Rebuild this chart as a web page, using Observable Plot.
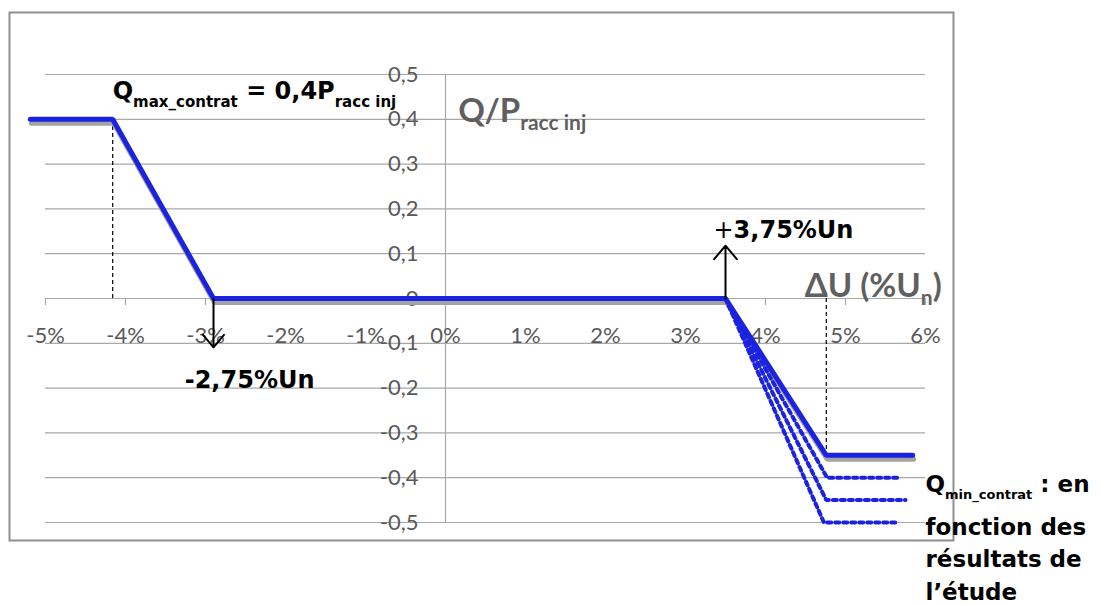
<!DOCTYPE html>
<html>
<head>
<meta charset="utf-8">
<script src="https://cdn.jsdelivr.net/npm/d3@7"></script>
<script src="https://cdn.jsdelivr.net/npm/@observablehq/plot@0.6"></script>
<style>
  html, body { margin: 0; padding: 0; background: #fff; }
  #chart svg { display: block; }
</style>
</head>
<body>
<div id="chart"></div>
<script>
// ---- Data ----
const xTicks = [-5, -4, -3, -2, -1, 0, 1, 2, 3, 4, 5, 6];
const xTickLabels = ["-5%", "-4%", "-3%", "-2%", "-1%", "0%", "1%", "2%", "3%", "4%", "5%", "6%"];
const yTicks = [0.5, 0.4, 0.3, 0.2, 0.1, 0, -0.1, -0.2, -0.3, -0.4, -0.5];
const yTickLabels = ["0,5", "0,4", "0,3", "0,2", "0,1", "0", "-0,1", "-0,2", "-0,3", "-0,4", "-0,5"];

// main Q(U) curve (% Un, Q/Pracc inj)
const curveU = [-5.19, -4.16, -2.9, 3.5, 4.76, 5.84];
const curveQ = [0.4, 0.4, 0, 0, -0.35, -0.35];

// dotted alternatives for Qmin_contrat
const variantStartU = 3.5;
const variantKneeU = [4.77, 4.76, 4.73];
const variantEndU = [5.65, 5.75, 5.65];
const variantQmin = [-0.4, -0.45, -0.5];

// dashed guides
const guideU = [-4.16, 4.76];
const guideQ = [0.4, -0.35];

// arrows
const arrowU = [-2.9, 3.5];
const arrowQ = [-0.109, 0.118];

// annotations
const blackNotes = [
  {u: -4.16, q: 0.446, parts: [["Q", "main"], ["max_contrat", "sub"], [" = 0,4P", "main"], ["racc inj", "sub"]]},
  {u: 3.35, q: 0.136, parts: [["+", "plain"], ["3,75%Un", "main"]]},
  {u: -3.26, q: -0.199, parts: [["-2,75%Un", "main"]]},
  {u: 6.0, q: -0.433, parts: [["Q", "main"], ["min_contrat", "sub"], [" : en", "main"]]}
];
const blackMultiline = [{u: 6.0, q: -0.672, text: "fonction des\nrésultats de\nl’étude"}];
const grayNotes = [
  {u: 0.16, q: 0.393, parts: [["Q/P", "main"], ["racc inj", "sub"]]},
  {u: 4.49, q: 0.004, parts: [["ΔU (%U", "main"], ["n", "sub"], [")", "main"]]}
];

// ---- Derived tables ----
const curve = curveU.map((u, i) => ({u, q: curveQ[i]}));
const variants = variantQmin.flatMap((qm, k) => [
  {id: k, u: variantStartU, q: 0},
  {id: k, u: variantKneeU[k], q: qm},
  {id: k, u: variantEndU[k], q: qm}
]);
const guides = guideU.map((u, i) => ({u, q: guideQ[i]}));
const arrows = arrowU.map((u, i) => ({u, q: arrowQ[i]}));
const joinParts = d => d.parts.map(p => p[0]).join("");

const BLUE = "#1b22e0";
const GRID = "#a8a8a8";
const LABEL = "#595959";
const BLACK_FONT = "DejaVu Sans";
const GRAY_FONT = "Lato";

const chart = Plot.plot({
  width: 1100,
  height: 605,
  marginLeft: 45,
  marginRight: 175,
  marginTop: 74,
  marginBottom: 83,
  x: {domain: [d3.min(xTicks), d3.max(xTicks)], axis: null},
  y: {domain: [d3.min(yTicks), d3.max(yTicks)], axis: null},
  style: {fontFamily: GRAY_FONT, fontSize: "22px", background: "white", overflow: "visible"},
  marks: [
    Plot.frame({stroke: "#8f8f8f", strokeWidth: 2, insetLeft: -36, insetTop: -62, insetRight: -28, insetBottom: -18}),
    // horizontal gridlines (including the zero axis)
    Plot.ruleY(yTicks, {y: d => d, x1: d3.min(xTicks), x2: d3.max(xTicks), stroke: GRID, strokeWidth: 1.2}),
    // vertical axis at 0
    Plot.ruleX([0], {x: d => d, y1: d3.min(yTicks), y2: d3.max(yTicks), stroke: GRID, strokeWidth: 1.2}),
    // x tick marks
    Plot.ruleX(xTicks, {x: d => d, y1: 0, y2: 0, insetBottom: -7, stroke: GRID, strokeWidth: 1.2}),
    // tick labels
    Plot.text(xTicks, {x: d => d, y: 0, text: (d, i) => xTickLabels[i], dy: 37, fill: LABEL, fontSize: 22}),
    Plot.text(yTicks, {x: 0, y: d => d, text: (d, i) => yTickLabels[i], dx: -27, textAnchor: "end", fill: LABEL, fontSize: 22}),
    // dashed guides
    Plot.ruleX(guides, {x: "u", y1: 0, y2: "q", stroke: "black", strokeWidth: 1.2, strokeDasharray: "4,3"}),
    // shadow
    Plot.line(curve, {x: "u", y: "q", stroke: "#a3a3a3", strokeWidth: 5, dx: 1, dy: 4, strokeLinejoin: "miter"}),
    // dotted variants
    Plot.line(variants, {x: "u", y: "q", z: "id", stroke: BLUE, strokeWidth: 4, strokeDasharray: "4,4", strokeLinejoin: "miter"}),
    // main curve
    Plot.line(curve, {x: "u", y: "q", stroke: BLUE, strokeWidth: 5, strokeLinejoin: "miter"}),
    // arrows
    Plot.arrow(arrows, {x1: "u", x2: "u", y1: 0, y2: "q", stroke: "black", strokeWidth: 2, headLength: 15, headAngle: 80}),
    // annotations
    Plot.text(blackNotes, {x: "u", y: "q", text: joinParts, textAnchor: "start", lineAnchor: "bottom", fill: "black", fontWeight: "bold", fontFamily: BLACK_FONT, fontSize: 24}),
    Plot.text(blackMultiline, {x: "u", y: "q", text: "text", textAnchor: "start", lineAnchor: "bottom", lineHeight: 1.4, fill: "black", fontWeight: "bold", fontFamily: BLACK_FONT, fontSize: 23}),
    Plot.text(grayNotes, {x: "u", y: "q", text: joinParts, textAnchor: "start", lineAnchor: "bottom", fill: "#5f5f5f", fontWeight: "bold", fontFamily: GRAY_FONT, fontSize: 33})
  ]
});

// turn subscript parts into tspans
function enrich(svg, notes, mainSize, subSize, shift) {
  const texts = Array.from(svg.querySelectorAll("text"));
  for (const note of notes) {
    const full = joinParts(note);
    const el = texts.find(t => t.textContent === full);
    if (!el) continue;
    const sel = d3.select(el);
    sel.text(null);
    let shifted = false;
    for (const [t, kind] of note.parts) {
      const ts = sel.append("tspan").text(t);
      if (kind === "sub") {
        ts.attr("font-size", subSize);
        if (!shifted) { ts.attr("dy", shift); shifted = true; }
      } else {
        ts.attr("font-size", mainSize);
        if (kind === "plain") ts.attr("font-weight", "normal");
        if (shifted) { ts.attr("dy", -shift); shifted = false; }
      }
    }
  }
}
enrich(chart, blackNotes.slice(0, 3), 24, 15, 8);
enrich(chart, blackNotes.slice(3), 23, 13, 7);
enrich(chart, grayNotes, 33, 21, 8);

document.getElementById("chart").appendChild(chart);
</script>
</body>
</html>
